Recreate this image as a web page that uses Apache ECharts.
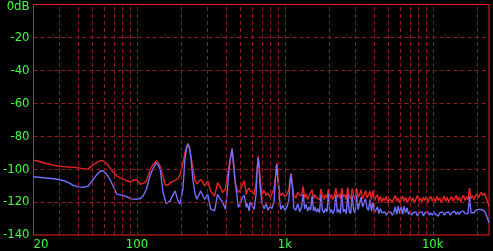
<!DOCTYPE html>
<html><head><meta charset="utf-8">
<script src="https://cdn.jsdelivr.net/npm/echarts@6/dist/echarts.min.js"></script>
<style>html,body{margin:0;padding:0;background:#000}#c{width:493px;height:251px}</style>
</head><body><div id="c"></div><script>
// Low-frequency part (Hz) and levels (dB)
const lowFreq = [
 20,21.6,23.3,25.2,27.2,29.4,31.7,34.3,37,40,
 43.2,46.7,50.4,54.4,57,59.7,63.5,66.5,69.6,72.9,
 76.4,81.2,86.4,90.5,94.7,99.3,105.6,110.5,115.8,123.1,
 128.9,135,139.3,143.6,150.4,155,157.5,162.4,167.5,175.5,
 181,189.5,195.4,201.5,204.6,211,216,221,226,231.5,
 238.8,246,254,258,270,278.4,287,301,315,324.8,
 335,351,367,379,397,409,416,426,440,446,
 453,463,485,500,516,532,549,557,574,583,
 602,620,639,650,660,670,680,702,724,746,
 770,794,818,844,864,880,898,920,939,970,
 1000,1032,1064,1080,1100,1123,1149,1185,1222,1260
];
const lowRed = [
 -94.6,-95.2,-96.1,-96.9,-97.6,-98.1,-98.5,-98.7,-98.8,-99.2,
 -99.7,-100.0,-97.5,-95.6,-94.8,-95.0,-97.5,-100.0,-102.2,-104.0,
 -105.2,-106.2,-107.2,-107.8,-106.6,-106.4,-109.2,-108.6,-107.2,-100.2,
 -97.0,-95.0,-96.0,-98.5,-104.5,-109.5,-110.6,-109.8,-108.2,-107.5,
 -106.8,-105.8,-103.5,-99.0,-96.5,-90.1,-86.5,-84.5,-86.5,-92.1,
 -99.0,-106.2,-109.0,-110.2,-106.2,-108.0,-110.2,-107.2,-113.2,-115.0,
 -116.3,-108.2,-111.0,-114.2,-112.0,-104.2,-103.0,-95.0,-87.5,-93.0,
 -100.0,-109.0,-114.2,-112.5,-109.0,-107.2,-115.3,-113.0,-111.5,-113.5,
 -114.0,-115.5,-108.0,-100.0,-92.0,-98.0,-107.0,-115.5,-113.0,-116.0,
 -114.5,-117.0,-115.0,-112.0,-105.0,-96.5,-104.0,-114.0,-116.0,-114.5,
 -117.0,-115.0,-112.5,-107.0,-102.5,-109.0,-116.0,-117.5,-114.0,-116.0
];
const lowBlue = [
 -104.6,-104.9,-105.2,-105.5,-105.8,-106.3,-106.9,-108.0,-109.8,-110.8,
 -111.1,-110.4,-106.5,-102.6,-101.0,-101.3,-104.0,-107.2,-111.0,-115.0,
 -115.6,-116.0,-117.0,-117.9,-118.2,-118.3,-117.8,-116.0,-112.2,-103.5,
 -99.5,-96.2,-97.5,-100.2,-114.2,-118.5,-120.9,-120.5,-119.3,-115.5,
 -113.2,-119.0,-121.3,-121.0,-112.0,-94.1,-88.0,-84.7,-86.5,-92.5,
 -106.0,-114.0,-118.3,-117.5,-113.2,-116.0,-118.3,-115.3,-124.3,-125.0,
 -125.3,-115.3,-118.3,-120.0,-124.3,-112.0,-104.2,-95.0,-87.7,-93.0,
 -100.0,-108.2,-123.3,-121.0,-117.3,-116.0,-123.3,-121.0,-125.3,-120.0,
 -122.0,-124.5,-115.0,-100.0,-93.0,-99.0,-110.0,-121.0,-124.0,-121.0,
 -125.0,-122.5,-124.0,-120.0,-106.0,-97.0,-106.0,-118.0,-124.5,-122.0,
 -125.0,-123.0,-119.0,-110.0,-103.0,-110.0,-123.5,-125.0,-121.0,-126.0
];
// High-frequency part (Hz) and levels (dB)
const highFreq = [
 1300,1330,1361,1393,1426,1459,1493,1528,1564,1600,
 1638,1676,1715,1755,1796,1838,1881,1925,1970,2016,
 2063,2112,2161,2212,2263,2316,2371,2426,2483,2541,
 2600,2661,2723,2787,2852,2919,2987,3057,3128,3201,
 3276,3353,3431,3511,3593,3677,3763,3851,3941,4034,
 4128,4224,4323,4424,4528,4633,4742,4853,4966,5082,
 5201,5322,5447,5574,5704,5838,5974,6114,6257,6403,
 6553,6706,6863,7023,7188,7356,7528,7704,7884,8068,
 8257,8450,8648,8850,9057,9269,9486,9708,9935,10167,
 10405,10648,10897,11152,11413,11680,11953,12233,12519,12812,
 13112,13418,13732,14054,14382,14719,15063,15416,15776,16145,
 16523,16910,17305,17710,18124,18548,18982,19426,19881,20346,
 20822,21309,21807,22317,22840,23374,24000
];
const highRed = [
 -116.0,-110.5,-117.5,-115.0,-118.5,-116.0,-117.0,-112.5,-118.0,-115.5,
 -117.5,-116.5,-118.5,-112.0,-116.0,-118.5,-115.5,-117.5,-112.0,-118.0,
 -115.5,-118.5,-116.0,-111.5,-117.5,-115.0,-118.0,-111.5,-117.0,-115.5,
 -118.5,-111.0,-116.5,-118.0,-112.0,-116.0,-118.5,-111.5,-117.0,-115.5,
 -112.5,-118.0,-116.0,-113.0,-117.5,-115.5,-113.5,-118.5,-113.0,-119.0,
 -117.0,-115.5,-119.5,-116.5,-120.0,-117.5,-119.0,-116.5,-120.5,-118.0,
 -117.0,-120.0,-118.0,-116.0,-119.5,-117.5,-120.5,-118.0,-116.5,-119.5,
 -117.0,-120.0,-118.5,-116.5,-119.5,-117.5,-120.5,-118.0,-116.0,-119.5,
 -117.5,-120.0,-117.0,-119.0,-116.5,-120.0,-118.0,-116.5,-119.5,-117.5,
 -120.0,-116.5,-119.0,-117.5,-120.5,-118.0,-116.5,-119.5,-117.0,-120.0,
 -118.0,-116.5,-119.5,-117.5,-116.0,-119.0,-117.0,-120.0,-117.5,-116.0,
 -119.0,-117.0,-118.5,-111.5,-118.0,-116.0,-118.5,-116.5,-115.0,-117.5,
 -115.5,-114.0,-116.0,-114.5,-117.0,-119.5,-122.5
];
const highBlue = [
 -122.5,-115.0,-124.0,-121.5,-125.5,-123.0,-125.0,-116.0,-125.5,-123.0,
 -126.0,-124.0,-126.5,-115.5,-125.0,-126.5,-124.0,-126.0,-115.0,-126.5,
 -124.5,-127.0,-125.0,-115.5,-126.5,-124.5,-127.0,-115.0,-126.0,-124.5,
 -127.0,-115.0,-125.5,-127.0,-116.0,-125.0,-126.5,-116.0,-124.5,-123.5,
 -117.0,-123.0,-124.0,-118.0,-123.5,-125.0,-118.5,-125.5,-120.0,-126.5,
 -125.5,-123.0,-127.0,-124.0,-126.5,-127.5,-126.0,-128.0,-126.5,-127.5,
 -126.0,-128.0,-126.5,-123.0,-127.5,-122.5,-127.0,-123.0,-127.5,-122.5,
 -126.5,-123.5,-127.5,-126.0,-128.0,-126.5,-127.5,-126.0,-128.5,-126.5,
 -127.5,-126.0,-128.5,-126.5,-127.5,-126.0,-128.0,-126.5,-128.0,-126.0,
 -127.5,-126.5,-128.5,-126.5,-127.5,-126.0,-128.0,-126.5,-127.5,-126.0,
 -128.0,-126.5,-127.0,-125.5,-127.5,-126.0,-127.5,-126.0,-127.0,-125.5,
 -127.0,-126.0,-127.0,-116.5,-126.5,-125.5,-126.5,-125.0,-126.0,-124.5,
 -125.5,-124.5,-125.0,-125.5,-127.0,-129.5,-132.5
];
const xTickValues = [20, 100, 1000, 10000];
const gridFreqs = [30,40,50,60,70,80,90,100,200,300,400,500,600,700,800,900,
 1000,2000,3000,4000,5000,6000,7000,8000,9000,10000,20000];
const gridDb = [-20,-40,-60,-80,-100,-120];

const FONT = "'Liberation Sans Narrow','DejaVu Sans Condensed',sans-serif";
const GREEN = '#40ff40';
const freq = lowFreq.concat(highFreq);
const red = lowRed.concat(highRed);
const blue = lowBlue.concat(highBlue);

const chart = echarts.init(document.getElementById('c'), null, {renderer: 'canvas'});
chart.setOption({
  backgroundColor: '#000',
  animation: false,
  grid: {left: 29, top: 4, right: 4, bottom: 15, show: true, borderColor: '#f01e1e', borderWidth: 1, backgroundColor: '#000'},
  xAxis: {
    type: 'log', logBase: 10, min: 20, max: 24000,
    axisLine: {show: false}, axisTick: {show: false}, splitLine: {show: false},
    axisLabel: {
      customValues: xTickValues,
      formatter: v => v >= 1000 ? (v / 1000) + 'k' : String(v),
      color: GREEN, fontFamily: FONT, fontSize: 13, margin: 3, alignMinLabel: 'left'
    }
  },
  yAxis: {
    type: 'value', min: -140, max: 0, interval: 20,
    axisLine: {show: false}, axisTick: {show: false}, splitLine: {show: false},
    axisLabel: {
      color: GREEN, fontFamily: FONT, fontSize: 13, margin: 4,
      formatter: v => v === 0 ? '{t|0dB}' : String(v),
      rich: {t: {color: GREEN, fontFamily: FONT, fontSize: 13, padding: [4, 0, 0, 0]}}
    }
  },
  series: [
    {
      type: 'line', data: [], z: 1, silent: true,
      markLine: {
        silent: true, symbol: ['none', 'none'], animation: false,
        label: {show: false},
        lineStyle: {color: '#8c1e1e', type: [4, 3], width: 1},
        emphasis: {disabled: true},
        data: gridFreqs.map(f => ({xAxis: f})).concat(gridDb.map(d => ({yAxis: d})))
      }
    },
    {
      type: 'line', z: 2, showSymbol: false, silent: true,
      data: freq.map((f, i) => [f, red[i]]),
      lineStyle: {color: '#e82424', width: 1.4}
    },
    {
      type: 'line', z: 3, showSymbol: false, silent: true,
      data: freq.map((f, i) => [f, blue[i]]),
      lineStyle: {color: '#7070ff', width: 1.4}
    }
  ]
});
</script></body></html>
